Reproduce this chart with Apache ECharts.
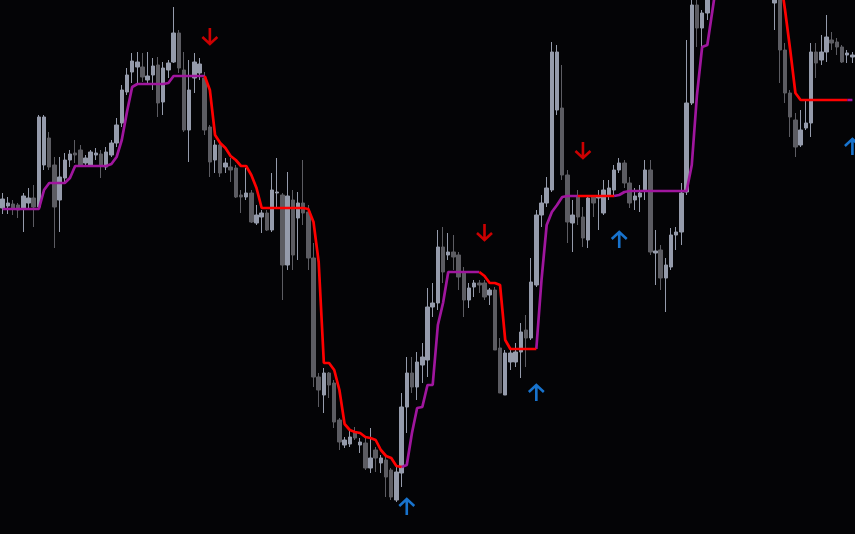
<!DOCTYPE html>
<html><head><meta charset="utf-8">
<script src="https://cdn.jsdelivr.net/npm/echarts@6/dist/echarts.min.js"></script>
<style>html,body{margin:0;padding:0;background:#040406;}#c{width:855px;height:534px;}</style>
</head><body><div id="c"></div>
<script>
const open=[326,328,330,329,326,331,336,327,369,396,
369,334,356,374,381,384,371,369,379,380,
367,379,391,411,442,462,467,467,454,459,
469,432,464,472,501,464,404,456,461,456,
407,374,389,367,367,366,339,337,341,311,
317,321,304,341,339,269,334,316,331,322,
276,157,139,161,151,114,89,90,102,89,
91,66,84,71,74,64,34,61,127,161,
147,169,174,227,231,287,279,282,279,262,
234,247,251,251,239,244,186,139,172,172,
182,204,196,249,319,331,344,424,426,359,
311,337,317,294,337,336,321,339,344,364,
371,351,334,337,344,364,281,284,256,267,
299,302,342,431,529,506,521,549,574,594,
589,614,629,619,634,624,604,594,574,531,
539,484,441,414,389,406,411,482,474,482,
494,492,487,479,477];
const close=[335,331,326,324,338,336,327,417,417,367,
327,357,374,380,379,369,376,382,381,368,
382,391,409,444,459,473,472,457,458,468,
431,466,471,501,466,404,444,472,470,404,
372,389,361,371,364,337,337,341,312,319,
321,304,344,342,269,338,279,331,321,276,
157,144,161,149,112,92,94,97,96,92,
66,76,76,76,57,37,62,127,161,147,
172,177,227,231,287,262,282,277,257,234,
246,251,249,237,244,184,141,181,181,182,
202,196,252,319,331,346,482,482,359,312,
319,317,296,336,331,338,344,346,364,371,
351,331,338,341,364,282,283,256,269,299,
302,341,431,529,506,521,549,574,594,589,
614,629,619,634,624,604,594,574,549,544,
484,441,417,387,404,411,482,471,482,497,
491,487,472,481,479];
const low=[320,320,319,316,302,324,307,326,364,364,
286,302,351,367,371,367,368,367,374,356,
364,377,387,407,439,451,451,452,449,444,
417,419,456,471,461,402,372,441,454,399,
357,361,357,361,352,336,321,334,311,309,
301,303,302,327,234,264,264,274,309,264,
147,127,121,136,106,84,86,87,94,81,
64,61,62,61,37,34,32,47,101,141,
134,151,157,217,224,251,274,264,244,217,
226,237,241,234,229,184,141,139,164,167,
156,167,194,247,307,327,342,419,354,291,
282,309,287,286,317,304,319,334,339,361,
346,326,324,322,334,279,249,244,222,264,
284,289,339,429,487,487,514,544,569,580,
585,608,612,614,618,598,588,566,542,504,
451,431,397,377,387,404,397,456,469,472,
484,479,471,471,471];
const high=[341,337,334,331,341,346,349,419,419,402,
377,377,381,384,394,389,379,384,386,384,
387,394,416,449,466,481,482,481,482,476,
477,472,474,527,504,482,474,481,476,462,
409,394,391,376,376,369,344,366,344,329,
324,324,361,376,341,362,344,342,374,329,
291,161,166,162,154,116,97,104,107,96,
96,106,87,79,77,66,67,141,177,177,
182,191,246,251,304,307,301,299,282,267,
251,254,254,254,246,247,196,184,187,191,
211,219,276,324,339,357,492,489,469,364,
334,344,327,339,339,344,354,354,369,376,
374,357,346,349,374,374,304,289,276,306,
307,351,494,539,542,524,559,584,604,600,
620,636,634,640,642,628,610,598,578,554,
539,491,444,421,424,434,491,491,499,519,
502,496,489,484,482];
const trend=[325,325,325,325,325,325,325,325,344,351,
351,351,351,356,368,368,368,368,368,368,
368,370,377,394,422,447,450,450,450,450,
450,450,451,458,458,458,458,458,458,458,
444,399,391,386,378,374,368,368,359,346,
326,326,326,326,326,326,326,326,326,325,
312,272,171,171,164,144,110,104,102,101,
97,96,94,84,78,76,68,67,69,101,
126,127,149,149,209,231,262,262,262,262,
262,262,262,258,251,251,249,194,185,185,
185,185,185,185,254,309,322,329,337,338,
338,338,338,338,338,338,338,338,338,339,
342,343,343,343,343,343,343,343,343,343,
343,343,343,369,439,487,489,524,559,580,
595,605,612,618,622,625,627,622,610,590,
560,524,484,441,434,434,434,434,434,434,
434,434,434,434,434];
const trendDir=[1,1,1,1,1,1,1,1,1,1,
1,1,1,1,1,1,1,1,1,1,
1,1,1,1,1,1,1,1,1,1,
1,1,1,1,1,1,1,1,1,1,
-1,-1,-1,-1,-1,-1,-1,-1,-1,-1,
-1,-1,-1,-1,-1,-1,-1,-1,-1,-1,
-1,-1,-1,-1,-1,-1,-1,-1,-1,-1,
-1,-1,-1,-1,-1,-1,-1,-1,1,1,
1,1,1,1,1,1,1,1,1,1,
1,1,1,-1,-1,-1,-1,-1,-1,-1,
-1,-1,-1,-1,1,1,1,1,1,1,
1,1,-1,-1,-1,-1,-1,-1,-1,1,
1,1,1,1,1,1,1,1,1,1,
1,1,1,1,1,1,1,1,1,1,
1,1,1,1,1,1,1,-1,-1,-1,
-1,-1,-1,-1,-1,-1,-1,-1,-1,-1,
-1,-1,-1,-1,1];
const sellArrowBar=[40,93,112];
const sellArrowLevel=[498,302,384];
const buyArrowBar=[78,103,119,164];
const buyArrowLevel=[27,141,294,387];

const bars=open.map((_,i)=>'Bar '+(i+1));
const candleData=open.map((o,i)=>[o,close[i],low[i],high[i]]);
const upLine=trend.map((v,i)=>(trendDir[i]===1||trendDir[i+1]===1)?v:null);
const downLine=trend.map((v,i)=>(trendDir[i]===-1||trendDir[i+1]===-1)?v:null);
const sellData=sellArrowBar.map((b,i)=>[b,sellArrowLevel[i]]);
const buyData=buyArrowBar.map((b,i)=>[b,buyArrowLevel[i]]);

const chart=echarts.init(document.getElementById('c'),null,{renderer:'canvas'});
chart.setOption({
  backgroundColor:'#040406',
  animation:false,
  grid:{left:0,right:0,top:0,bottom:0},
  xAxis:{type:'category',data:bars,boundaryGap:true,show:false},
  yAxis:{type:'value',min:0,max:534,show:false,splitLine:{show:false}},
  series:[
    {type:'candlestick',data:candleData,barWidth:'78%',clip:true,
     itemStyle:{color:'#959bab',color0:'#5c5c62',borderColor:'#959bab',borderColor0:'#5c5c62',borderWidth:1}},
    {type:'line',data:upLine,symbol:'none',connectNulls:false,lineStyle:{color:'#a0169e',width:2.7}},
    {type:'line',data:downLine,symbol:'none',connectNulls:false,lineStyle:{color:'#ff0000',width:2.7}},
    {type:'scatter',data:sellData,symbol:'path://M8,0 L8,16 M1,9 L8,16 L15,9',symbolSize:[15,16],
     itemStyle:{color:'rgba(0,0,0,0)',borderColor:'#ff0000',borderWidth:2.7}},
    {type:'scatter',data:buyData,symbol:'path://M8,0 L8,16 M1,7 L8,0 L15,7',symbolSize:[15,16],
     itemStyle:{color:'rgba(0,0,0,0)',borderColor:'#1e90ff',borderWidth:2.7}}
  ]
});
</script></body></html>
